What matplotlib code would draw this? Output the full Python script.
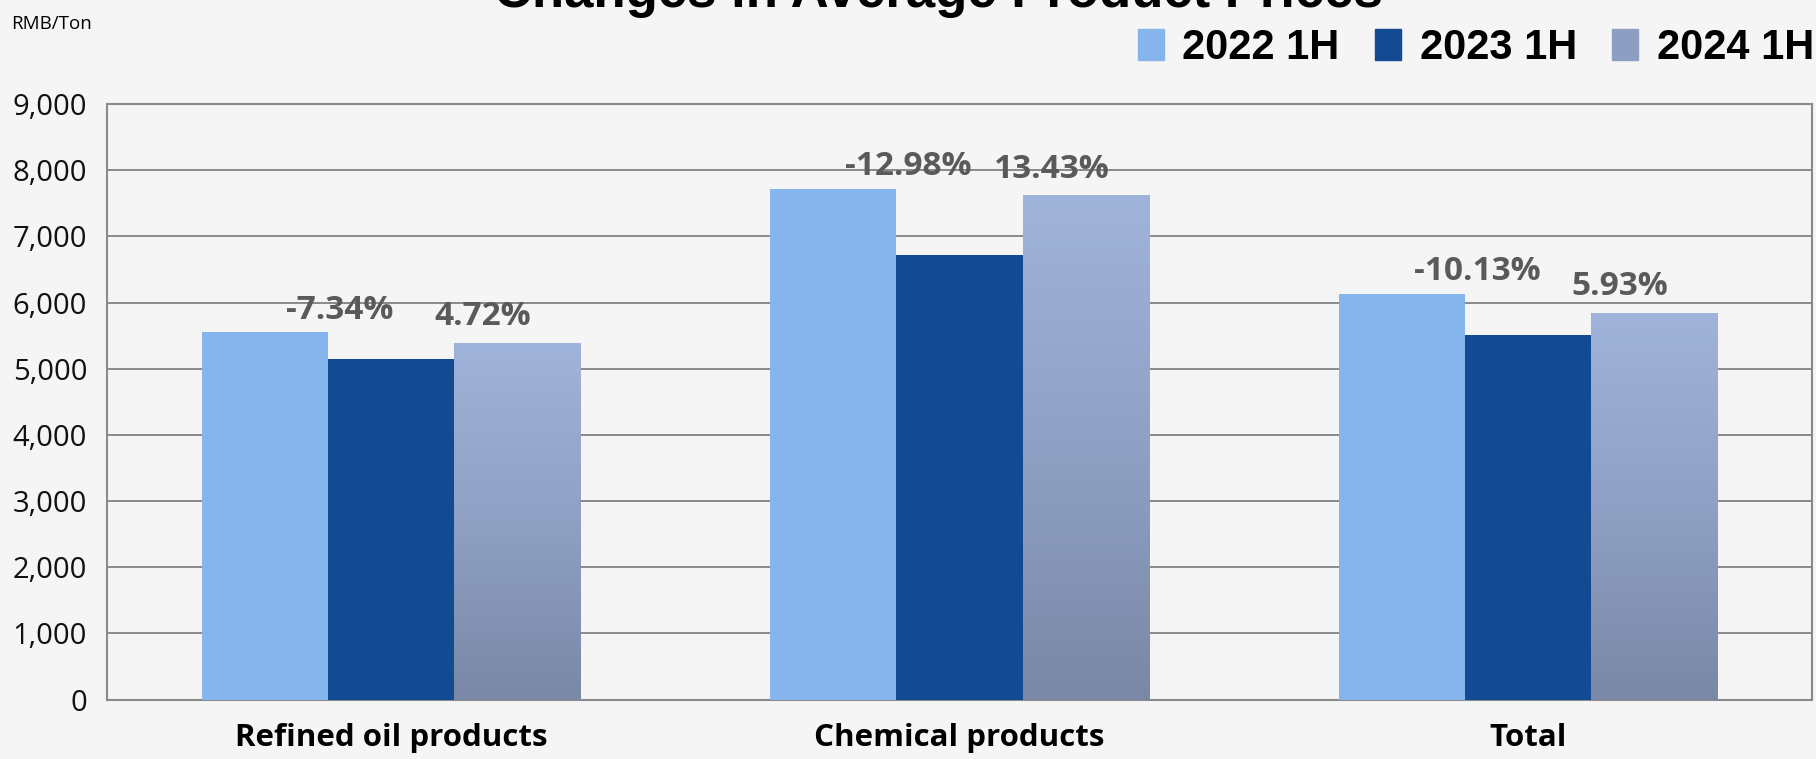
import numpy as np
import matplotlib
matplotlib.use("Agg")
import matplotlib.pyplot as plt
from matplotlib.colors import LinearSegmentedColormap
from matplotlib.patches import Patch

categories = ["Refined oil products", "Chemical products", "Total"]
series = ["2022 1H", "2023 1H", "2024 1H"]
prices_2022 = [5550, 7720, 6130]
prices_2023 = [5145, 6720, 5510]
prices_2024 = [5388, 7620, 5840]
chg_2023 = ["-7.34%", "-12.98%", "-10.13%"]
chg_2024 = ["4.72%", "13.43%", "5.93%"]
yticks = [0, 1000, 2000, 3000, 4000, 5000, 6000, 7000, 8000, 9000]

bg = "#f5f5f5"
c22 = "#86b5ee"
c23 = "#124b91"
grad = LinearSegmentedColormap.from_list("g24", ["#7a88a6", "#8fa0c4", "#a0b3da"])

fig = plt.figure(figsize=(18.16, 7.59), dpi=100, facecolor=bg)
ax = fig.add_axes([0.0587, 0.0783, 0.9393, 0.7845], facecolor=bg)

x = np.arange(len(categories))
w = 0.222
b22 = ax.bar(x - w, prices_2022, w, color=c22, zorder=3)
b23 = ax.bar(x, prices_2023, w, color=c23, zorder=3)
b24 = ax.bar(x + w, prices_2024, w, color="none", zorder=3)

# vertical gradient on 2024 bars
g = np.linspace(0, 1, 256).reshape(-1, 1)
for p in b24:
    x0, y0 = p.get_x(), p.get_y()
    im = ax.imshow(g, cmap=grad, origin="lower", aspect="auto", zorder=3,
                   extent=[x0, x0 + p.get_width(), y0, y0 + p.get_height()])
    im.set_clip_path(p)

ax.set_xlim(-0.5, 2.5)
ax.set_ylim(0, 9000)
ax.set_yticks(yticks)
ax.set_yticklabels([f"{v:,}" for v in yticks], fontsize=21, family="Open Sans", color="#111111")
ax.set_xticks(x)
ax.set_xticklabels(categories, fontsize=22.5, family="Open Sans", fontweight="bold")
ax.tick_params(axis="y", length=0, pad=14)
ax.tick_params(axis="x", length=0, pad=17)
ax.grid(axis="y", color="#8a8a8a", linewidth=1.4, zorder=1)
for s in ax.spines.values():
    s.set_color("#8a8a8a")
    s.set_linewidth(1.5)

lab = dict(fontsize=24, family="Open Sans", fontweight="bold", color="#5a5a5a",
           ha="center", va="center", textcoords="offset points", zorder=4)
for i in range(len(categories)):
    ax.annotate(chg_2023[i], (x[i] - 0.09, prices_2022[i]), xytext=(0, 16), **lab)
    ax.annotate(chg_2024[i], (x[i] + w - 0.06, prices_2024[i]), xytext=(0, 19), **lab)

fig.text(0.517, 0.991, "Changes in Average Product Prices", ha="center", va="baseline",
         fontsize=38, fontweight="bold", family="Liberation Sans")
fig.text(0.006, 0.968, "RMB/Ton", ha="left", va="center", fontsize=13.5, family="Open Sans")

handles = [Patch(color=c22), Patch(color=c23), Patch(color="#8d9ec2")]
fig.legend(handles, series, loc="center right", bbox_to_anchor=(0.999, 0.937), ncol=3,
           frameon=False, prop={"family": "Liberation Sans", "weight": "bold", "size": 30},
           handlelength=0.62, handleheight=0.75, handletextpad=0.45, columnspacing=0.85,
           borderaxespad=0, borderpad=0)

fig.savefig("out.png", dpi=100, facecolor=bg)
